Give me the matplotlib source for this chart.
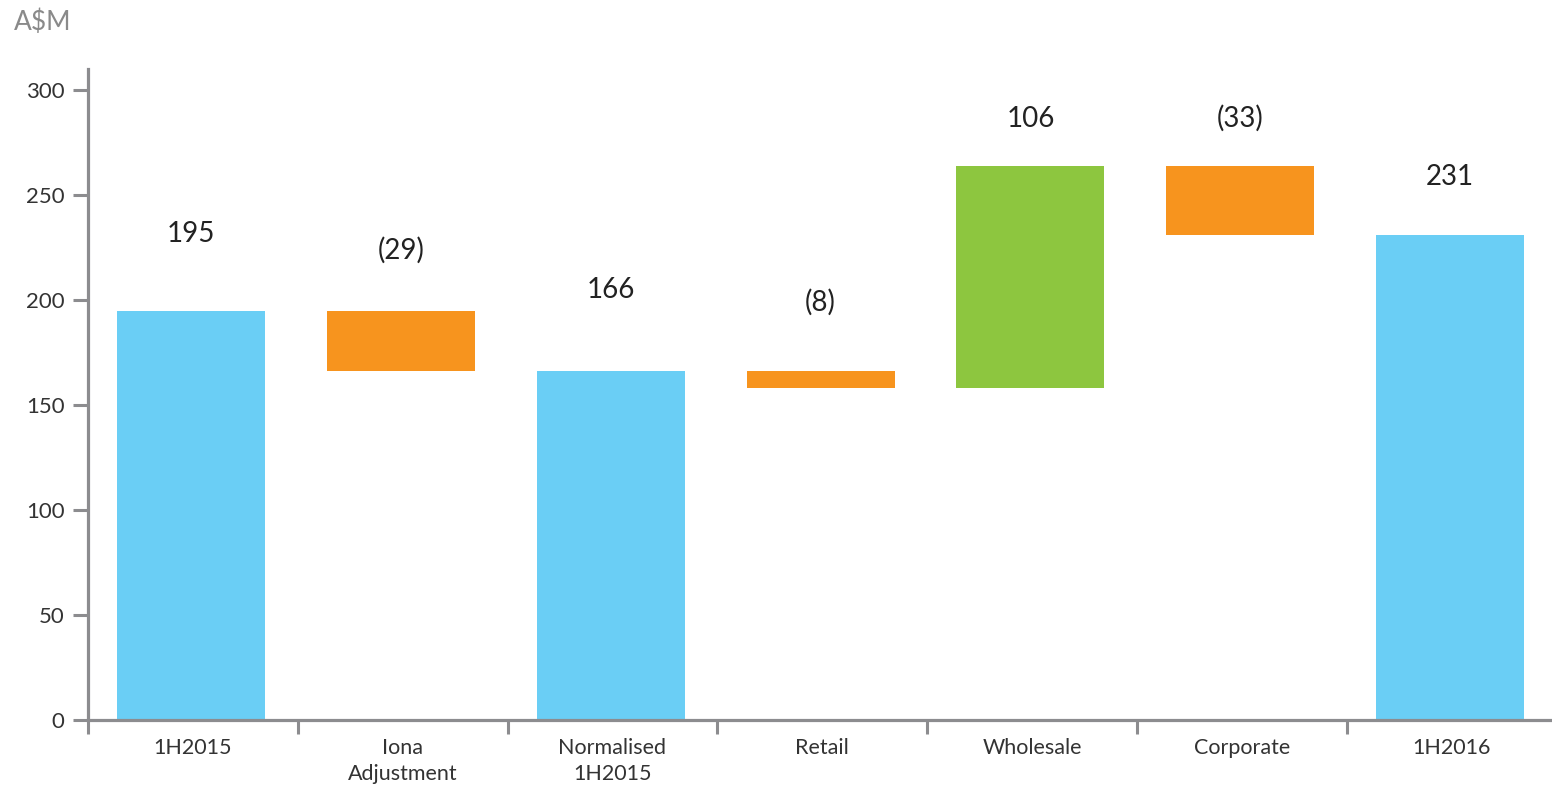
import matplotlib
matplotlib.use("Agg")
import matplotlib.pyplot as plt

categories = ["1H2015", "Iona\nAdjustment", "Normalised\n1H2015", "Retail", "Wholesale", "Corporate", "1H2016"]
changes = [195, -29, None, -8, 106, -33, None]   # None = running total bar
value_labels = ["195", "(29)", "166", "(8)", "106", "(33)", "231"]
totals_reported = [195, None, 166, None, None, None, 231]
label_offsets_px = [77, 60, 81, 69, 47, 47, 58]
y_ticks = [0, 50, 100, 150, 200, 250, 300]

BLUE = "#6ACEF5"
ORANGE = "#F7941E"
GREEN = "#8DC63F"
AXIS = "#8C8C8F"

plt.rcParams['font.family'] = ['Lato', 'DejaVu Sans']

W, H, DPI = 1552, 788, 100
CAT_PX = 209.8
fig = plt.figure(figsize=(W / DPI, H / DPI), dpi=DPI)
ax = fig.add_axes([88 / W, 1 - 720 / H, 1 - 88 / W, (720 - 69) / H])

bar_w = 0.705
shift = -0.008
running = 0
tops = []
for i, (c, t) in enumerate(zip(changes, totals_reported)):
    x = i + shift
    if c is None:
        val = t if t is not None else running
        running = val
        ax.bar(x, val, bottom=0, width=bar_w, color=BLUE, linewidth=0)
        tops.append(val)
    elif i == 0:
        running = c
        ax.bar(x, c, bottom=0, width=bar_w, color=BLUE, linewidth=0)
        tops.append(c)
    else:
        start = running
        end = running + c
        lo, hi = min(start, end), max(start, end)
        ax.bar(x, hi - lo, bottom=lo, width=bar_w, color=GREEN if c > 0 else ORANGE, linewidth=0)
        tops.append(hi)
        running = end

for i, (lab, top, off) in enumerate(zip(value_labels, tops, label_offsets_px)):
    ax.annotate(lab, xy=(i + shift, top), xytext=(0, off * 0.72), textcoords="offset points",
                ha="center", va="center", fontsize=20, color="#222222")

ax.set_xlim(-0.5, -0.5 + (W - 88) / CAT_PX)
ax.set_ylim(0, 310)

for s in ["top", "right"]:
    ax.spines[s].set_visible(False)
for s in ["left", "bottom"]:
    ax.spines[s].set_color(AXIS)
    ax.spines[s].set_linewidth(2.3)
ax.spines["left"].set_bounds(0, 310)

ax.set_yticks(y_ticks)
ax.set_yticklabels([str(v) for v in y_ticks])
ax.tick_params(axis="y", length=11, width=2.2, color=AXIS, pad=6, labelsize=16, labelcolor="#333333")

ax.set_xticks(range(len(categories)))
ax.set_xticklabels(categories)
ax.tick_params(axis="x", which="major", length=0, pad=13, labelsize=15.5, labelcolor="#333333")
ax.set_xticks([i - 0.5 for i in range(len(categories))], minor=True)
ax.tick_params(axis="x", which="minor", length=10, width=2.2, color=AXIS)
for t in ax.get_xticklabels():
    t.set_linespacing(1.35)

fig.text(14 / W, 1 - 22 / H, "A$M", fontsize=19, color="#8A8A8A", ha="left", va="center")

fig.savefig("out.png", dpi=DPI, facecolor="white")
